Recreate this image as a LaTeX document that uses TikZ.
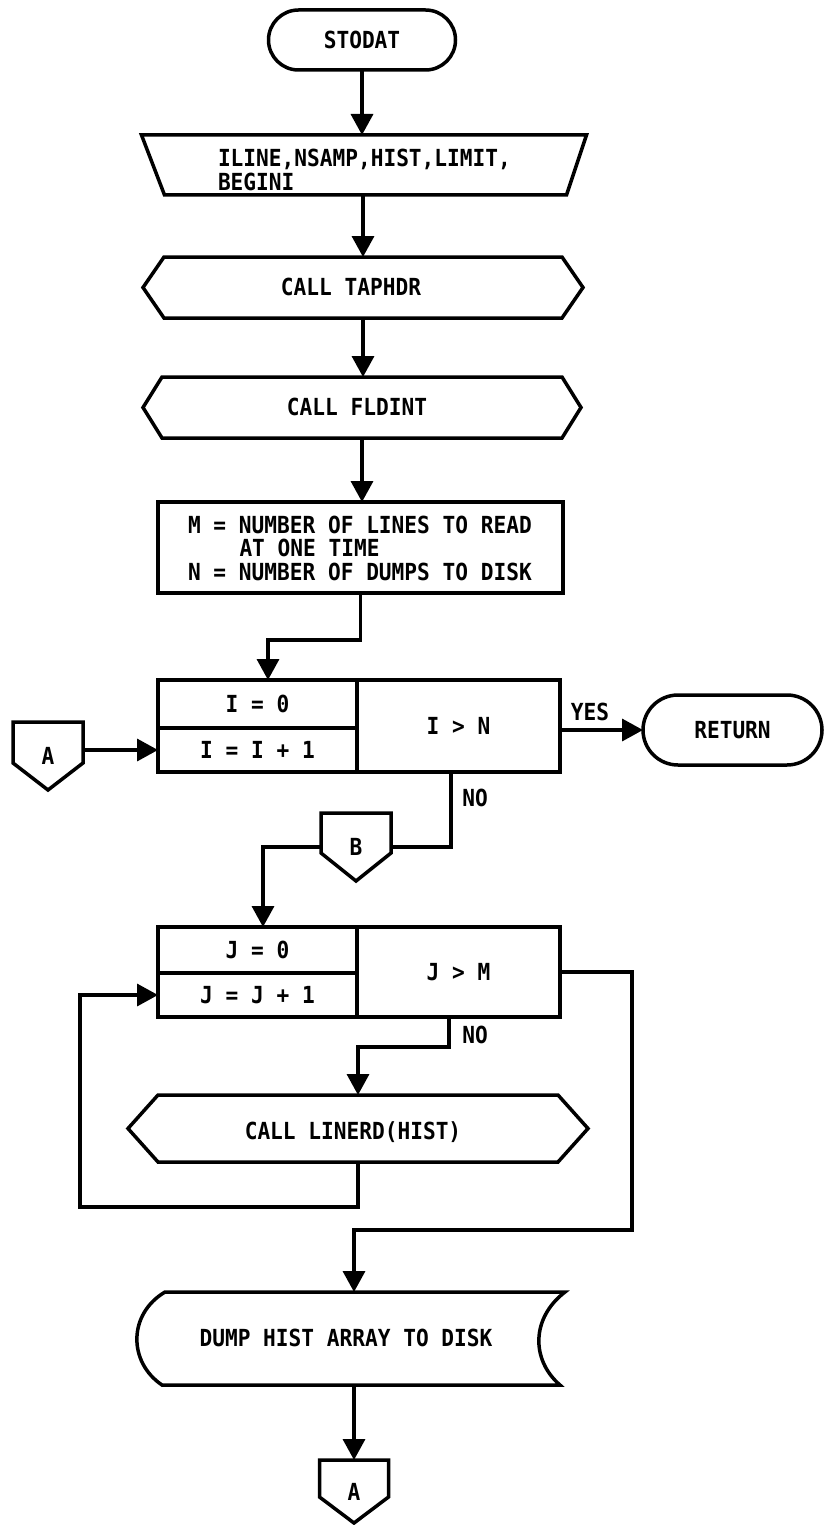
\documentclass[tikz,border=0pt]{standalone}
\usepackage{fontspec}
\newfontfamily\lerfont{DejaVu Sans Mono}[FakeStretch=0.9]
\usetikzlibrary{arrows.meta,shapes.misc}
\begin{document}
\begin{tikzpicture}[x=1pt,y=-1pt,
  ln/.style={line width=3.5pt, line join=miter, line cap=butt},
  arr/.style={ln, -{Triangle[length=21pt,width=22pt]}},
  txt/.style={font=\lerfont\bfseries\fontsize{23.5pt}{24pt}\selectfont, inner sep=0pt, outer sep=0pt, text height=17.1pt, text depth=0pt},
  shp/.style={inner sep=0pt, outer sep=0pt, draw=none},
  term/.style={rounded rectangle, draw, line width=3.5pt, txt},
  cell/.style={rectangle, draw, line width=3.5pt, txt},
  conn/.style={shp, txt, minimum width=70pt, minimum height=68pt}
]
\useasboundingbox (0,0) rectangle (823,1525);

% start terminator
\node[term, minimum width=187pt, minimum height=60pt] (stodat) at (362,40) {STODAT};

% manual input
\node[shp, minimum width=445pt, minimum height=60pt] (inp) at (364,165) {};
\draw[ln] (inp.north west) -- (inp.north east) -- ([xshift=-20pt]inp.south east) -- ([xshift=23pt]inp.south west) -- cycle;
\node[txt, anchor=west] (inp1) at (218,158) {ILINE,NSAMP,HIST,LIMIT,};
\node[txt, anchor=west] (inp2) at (218,182) {BEGINI};

% CALL TAPHDR
\node[shp, minimum width=398pt, minimum height=61pt] (tap) at (363,287.5) {};
\draw[ln] (tap.north west) -- (tap.north east) -- ([xshift=21pt]tap.east) -- (tap.south east) -- (tap.south west) -- ([xshift=-21pt]tap.west) -- cycle;
\node[txt] (taptxt) at (351,287) {CALL TAPHDR};

% CALL FLDINT
\node[shp, minimum width=400pt, minimum height=61pt] (fld) at (362,407.5) {};
\draw[ln] (fld.north west) -- (fld.north east) -- ([xshift=19pt]fld.east) -- (fld.south east) -- (fld.south west) -- ([xshift=-19pt]fld.west) -- cycle;
\node[txt] (fldtxt) at (357,407) {CALL FLDINT};

% M / N box
\node[cell, minimum width=405pt, minimum height=91pt] (mbox) at (360.5,547.5) {};
\node[txt, anchor=west] (m1) at (188,525) {M = NUMBER OF LINES TO READ};
\node[txt, anchor=west] (m2) at (239.5,548) {AT ONE TIME};
\node[txt, anchor=west] (m3) at (188,572) {N = NUMBER OF DUMPS TO DISK};

% I loop box
\node[cell, minimum width=199pt, minimum height=48pt] (ia) at (257.5,704) {I = 0};
\node[cell, minimum width=199pt, minimum height=44pt] (ib) at (257.5,750) {I = I + 1};
\node[cell, minimum width=203pt, minimum height=92pt] (ic) at (458.5,726) {I > N};

% connector A (entry)
\node[conn] (a1) at (48,756) {A};
\draw[ln] (a1.north west) -- (a1.north east) -- ([yshift=27pt]a1.south east) -- (a1.south) -- ([yshift=27pt]a1.south west) -- cycle;

% RETURN
\node[term, minimum width=179pt, minimum height=70pt] (ret) at (732.5,730) {RETURN};
\node[txt] (yes) at (590,712) {YES};

% connector B
\node[conn] (b) at (356,847) {B};
\draw[ln] (b.north west) -- (b.north east) -- ([yshift=28pt]b.south east) -- (b.south) -- ([yshift=28pt]b.south west) -- cycle;
\node[txt] (no1) at (475,798) {NO};

% J loop box
\node[cell, minimum width=199pt, minimum height=46pt] (ja) at (257.5,950) {J = 0};
\node[cell, minimum width=199pt, minimum height=44pt] (jb) at (257.5,995) {J = J + 1};
\node[cell, minimum width=203pt, minimum height=90pt] (jc) at (458.5,972) {J > M};
\node[txt] (no2) at (475,1035) {NO};

% CALL LINERD(HIST)
\node[shp, minimum width=400pt, minimum height=67pt] (lin) at (358,1128.5) {};
\draw[ln] (lin.north west) -- (lin.north east) -- ([xshift=30pt]lin.east) -- (lin.south east) -- (lin.south west) -- ([xshift=-30pt]lin.west) -- cycle;
\node[txt] (lintxt) at (353,1131) {CALL LINERD(HIST)};

% stored data
\node[shp, minimum width=400pt, minimum height=93pt] (dump) at (354,1338.5) {};
\draw[ln] (165,1292) -- (565,1292) .. controls (531,1318) and (531,1360) .. (560,1385) -- (162,1385) .. controls (128,1362) and (128,1314) .. cycle;
\node[txt] (dumptxt) at (346,1338) {DUMP HIST ARRAY TO DISK};

% connector A (exit)
\node[shp, txt, minimum width=69pt, minimum height=63pt] (a2) at (354,1491.5) {A};
\draw[ln] (a2.north west) -- (a2.north east) -- ([yshift=26pt]a2.south east) -- (a2.south) -- ([yshift=26pt]a2.south west) -- cycle;

% helper coordinates
\coordinate (lp) at (80,1207);
\coordinate (rt) at (632,1230);

% connectors
\draw[arr] (stodat.south) -- (stodat.south |- inp.north);
\draw[arr] (tap.north |- inp.south) -- (tap.north);
\draw[arr] (tap.south) -- (tap.south |- fld.north);
\draw[arr] (fld.south) -- (fld.south |- mbox.north);
\draw[arr] (mbox.south) -- ++(0,47) -| ([xshift=10.5pt]ia.north);
\draw[arr] (a1.east |- ib.west) -- (ib.west);
\draw[arr] (ic.east |- ret.west) -- (ret.west);
\draw[ln] ([xshift=-7.5pt]ic.south) |- (b.east);
\draw[arr] (b.west) -| ([xshift=5.5pt]ja.north);
\draw[arr] ([xshift=-9.5pt]jc.south) -- ++(0,30) -| (lin.north);
\draw[arr] (lin.south) |- (lp) |- (jb.west);
\draw[arr] (jc.east) -| (rt) -| (dump.north);
\draw[arr] (dump.south) -- (a2.north);
\end{tikzpicture}
\end{document}
